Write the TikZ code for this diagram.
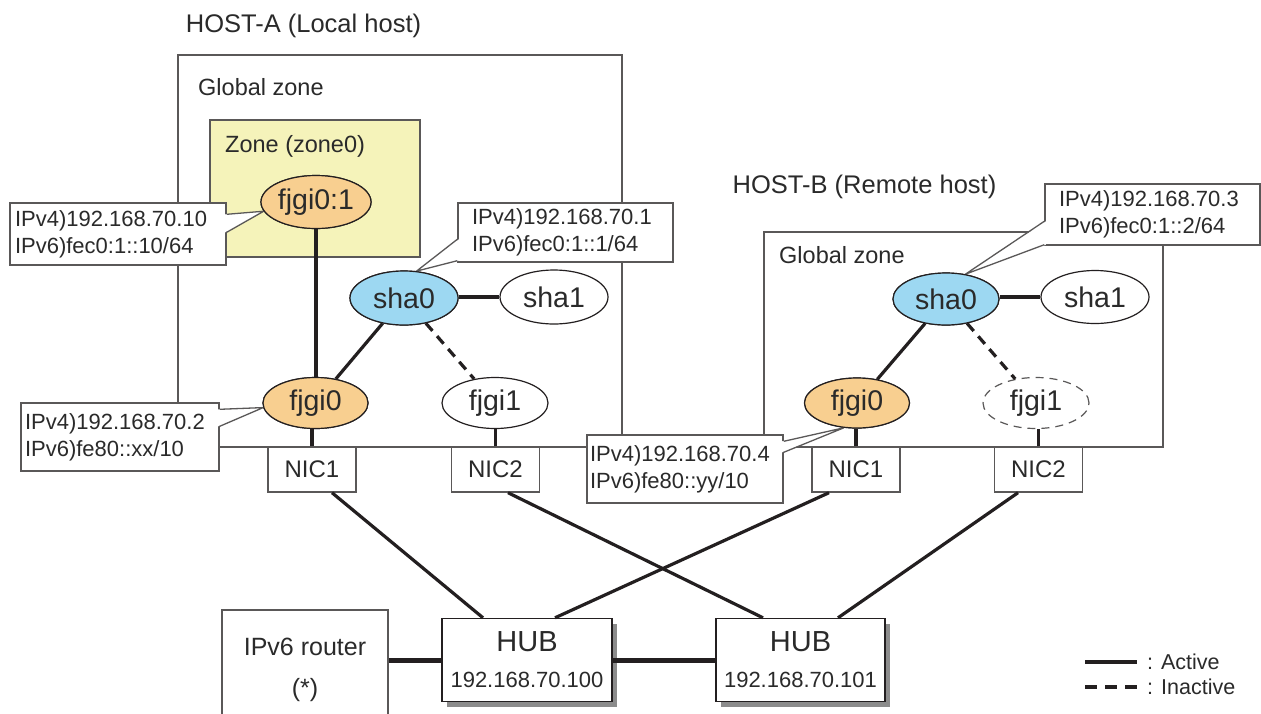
\documentclass[tikz,border=0pt]{standalone}
\usepackage{fontspec}
\setmainfont{Liberation Sans}
\usetikzlibrary{calc,shapes.geometric,shadows}
\definecolor{ink}{HTML}{231F20}
\definecolor{txt}{HTML}{2A2A2A}
\definecolor{boxline}{HTML}{5A5858}
\definecolor{zonefill}{HTML}{F5F3BA}
\definecolor{orangefill}{HTML}{F8CF90}
\definecolor{bluefill}{HTML}{9DD8F2}
\definecolor{shadowgray}{HTML}{8C8C8C}
\newcommand{\fsz}[1]{\fontsize{#1}{#1}\selectfont}
\begin{document}
\begin{tikzpicture}[x=1pt,y=-1pt,
  every node/.style={text=txt},
  hostframe/.style={rectangle, draw=boxline, line width=1.4pt, inner sep=0pt},
  lbl/.style={inner sep=0pt, font=\fsz{23.5}},
  hosttitle/.style={inner sep=0pt, font=\fsz{25.5}},
  ifc/.style={ellipse, draw=ink, line width=1.2pt, inner sep=0pt, font=\fsz{28.5}},
  calloutbox/.style={rectangle, draw=boxline, line width=1.4pt, fill=white, align=left, font=\fontsize{22}{27}\selectfont, inner ysep=0pt},
  nicbox/.style={rectangle, draw=boxline, line width=1.4pt, fill=white, inner sep=0pt, minimum width=88pt, minimum height=45pt, font=\fsz{24}},
  hubbox/.style={rectangle, draw=ink, line width=1.4pt, fill=white, inner sep=0pt, minimum height=83pt, align=center, font=\fontsize{22}{36}\selectfont, drop shadow={shadow xshift=5pt, shadow yshift=-5pt, fill=shadowgray, opacity=1}},
  routerbox/.style={rectangle, draw=boxline, line width=1.4pt, fill=white, inner sep=0pt, minimum width=166pt, minimum height=119pt, align=center, font=\fontsize{25}{41}\selectfont},
  activeline/.style={draw=ink, line width=3.2pt},
  inactiveline/.style={draw=ink, line width=3.2pt, dash pattern=on 10pt off 7pt},
  thickline/.style={draw=ink, line width=5pt},
  wedgeline/.style={draw=boxline, line width=1.3pt, line join=miter},
  legendtext/.style={inner sep=0pt, anchor=west, font=\fsz{21.5}},
]
\useasboundingbox (0,0) rectangle (1261,713);
\clip (0,0) rectangle (1261,713);
\fill[white] (0,0) rectangle (1261,713);

% host frames and zone
\node[hostframe, minimum width=444pt, minimum height=392pt] (hostA) at (400,251) {};
\node[hostframe, minimum width=399pt, minimum height=215pt] (hostB) at (963.5,339.5) {};
\node[hostframe, fill=zonefill, minimum width=210pt, minimum height=137pt] (zone0) at (315,188.5) {};

% labels
\node[hosttitle] (titleA) at (303.5,26) {HOST-A (Local host)};
\node[hosttitle] (titleB) at (864.5,187) {HOST-B (Remote host)};
\node[lbl, anchor=west] (globalA) at (198,87) {Global zone};
\node[lbl, anchor=west] (globalB) at (779,255) {Global zone};
\node[lbl, anchor=west] (zoneLbl) at (225,146) {Zone (zone0)};

% NIC boxes
\node[nicbox] (nicA1) at (312,469.5) {NIC1};
\node[nicbox] (nicA2) at (495.5,469.5) {NIC2};
\node[nicbox] (nicB1) at (856,469.5) {NIC1};
\node[nicbox] (nicB2) at (1038.5,469.5) {NIC2};

% callouts
\node[calloutbox, text width=206pt, inner xsep=5pt, minimum height=62pt] (calA1) at (118,234) {IPv4)192.168.70.10\\IPv6)fec0:1::10/64};
\node[calloutbox, text width=187pt, inner xsep=14pt, minimum height=59pt] (calA2) at (565.5,232.5) {IPv4)192.168.70.1\\IPv6)fec0:1::1/64};
\node[calloutbox, text width=190pt, inner xsep=4pt, minimum height=68pt] (calA3) at (120,437) {IPv4)192.168.70.2\\IPv6)fe80::xx/10};
\node[calloutbox, text width=187pt, inner xsep=14pt, minimum height=61pt] (calB1) at (1152.5,214.5) {IPv4)192.168.70.3\\IPv6)fec0:1::2/64};
\node[calloutbox, text width=190pt, inner xsep=3pt, minimum height=68pt] (calB2) at (685,469) {IPv4)192.168.70.4\\IPv6)fe80::yy/10};

% interfaces
\node[ifc, fill=orangefill, minimum width=110pt, minimum height=53pt] (fjgiA01) at (316,202) {fjgi0:1};
\node[ifc, fill=bluefill, minimum width=108pt, minimum height=54pt] (shaA0) at (404,298) {sha0};
\node[ifc, fill=white, minimum width=108pt, minimum height=54pt] (shaA1) at (554,297) {sha1};
\node[ifc, fill=orangefill, minimum width=105pt, minimum height=51pt] (fjgiA0) at (315.5,403) {fjgi0};
\node[ifc, fill=white, minimum width=106pt, minimum height=51pt] (fjgiA1) at (495,403) {fjgi1};
\node[ifc, fill=bluefill, minimum width=106pt, minimum height=52pt] (shaB0) at (946,299) {sha0};
\node[ifc, fill=white, minimum width=108pt, minimum height=53pt] (shaB1) at (1095,297) {sha1};
\node[ifc, fill=orangefill, minimum width=105pt, minimum height=50pt] (fjgiB0) at (857,403) {fjgi0};
\node[ifc, fill=white, draw=boxline, line width=1.2pt, dash pattern=on 8pt off 6pt, minimum width=106pt, minimum height=51pt] (fjgiB1) at (1036,403) {fjgi1};

% callout wedges
\fill[white] ($(calA1.north east)+(-1.5,12)$) -- (fjgiA01.190) -- ($(calA1.north east)+(-1.5,30)$) -- cycle;
\draw[wedgeline] ($(calA1.north east)+(0,12)$) -- (fjgiA01.190) -- ($(calA1.north east)+(0,30)$);
\fill[white] ($(calA2.north west)+(1.5,37)$) -- (shaA0.65) -- ($(calA2.south west)+(1.5,-2)$) -- cycle;
\draw[wedgeline] ($(calA2.north west)+(0,37)$) -- (shaA0.65) -- ($(calA2.south west)+(0,-2)$);
\fill[white] ($(calA3.north east)+(-1.5,7)$) -- (fjgiA0.185) -- ($(calA3.north east)+(-1.5,24)$) -- cycle;
\draw[wedgeline] ($(calA3.north east)+(0,7)$) -- (fjgiA0.185) -- ($(calA3.north east)+(0,24)$);
\fill[white] ($(calB1.north west)+(1.5,38)$) -- (shaB0.52) -- ($(calB1.south west)+(1.5,-1)$) -- cycle;
\draw[wedgeline] ($(calB1.north west)+(0,38)$) -- (shaB0.52) -- ($(calB1.south west)+(0,-1)$);
\fill[white] ($(calB2.north east)+(-1.5,7)$) -- (fjgiB0.242) -- ($(calB2.north east)+(-1.5,18)$) -- cycle;
\draw[wedgeline] ($(calB2.north east)+(0,7)$) -- (fjgiB0.242) -- ($(calB2.north east)+(0,18)$);

% redraw interfaces on top of wedge tips
\node[ifc, fill=orangefill, minimum width=110pt, minimum height=53pt] (fjgiA01top) at (fjgiA01.center) {fjgi0:1};
\node[ifc, fill=bluefill, minimum width=108pt, minimum height=54pt] (shaA0top) at (shaA0.center) {sha0};
\node[ifc, fill=orangefill, minimum width=105pt, minimum height=51pt] (fjgiA0top) at (fjgiA0.center) {fjgi0};
\node[ifc, fill=bluefill, minimum width=106pt, minimum height=52pt] (shaB0top) at (shaB0.center) {sha0};
\node[ifc, fill=orangefill, minimum width=105pt, minimum height=50pt] (fjgiB0top) at (fjgiB0.center) {fjgi0};

% connectors inside hosts
\draw[activeline] (fjgiA01.south) -- (fjgiA01.south |- fjgiA0.north);
\draw[activeline] (shaA0) -- (fjgiA0);
\draw[inactiveline] (shaA0) -- (fjgiA1);
\draw[activeline] (shaA0.east |- shaA1.west) -- (shaA1.west);
\draw[activeline] (nicA1.north) -- (nicA1.north |- fjgiA0.south);
\draw[activeline] (nicA2.north) -- (nicA2.north |- fjgiA1.south);
\draw[activeline] (shaB0) -- (fjgiB0);
\draw[inactiveline] (shaB0) -- (fjgiB1);
\draw[activeline] (shaB0.east |- shaB1.west) -- (shaB1.west);
\draw[activeline] (nicB1.north) -- (nicB1.north |- fjgiB0.south);
\draw[activeline] (nicB2.north) -- (nicB2.north |- fjgiB1.south);

% hubs and router
\node[routerbox] (router) at (305,669.5) {IPv6 router\\(*)};
\node[hubbox, minimum width=170pt] (hub1) at (527,660) {{\fsz{29}HUB}\\192.168.70.100};
\node[hubbox, minimum width=169pt] (hub2) at (800.5,660) {{\fsz{29}HUB}\\192.168.70.101};

\draw[thickline] (hub1.west -| router.east) -- (hub1.west);
\draw[thickline] (hub1.east) -- (hub2.west);
\draw[activeline] ($(nicA1.south)+(20,0)$) -- ($(hub1.north)+(-44,0)$);
\draw[activeline] ($(nicA2.south)+(12.5,0)$) -- ($(hub2.north)+(-37.5,0)$);
\draw[activeline] ($(nicB1.south)+(-27,0)$) -- ($(hub1.north)+(28,0)$);
\draw[activeline] ($(nicB2.south)+(-20.5,0)$) -- ($(hub2.north)+(37.5,0)$);

% legend
\coordinate (legA1) at (1085,662);
\coordinate (legA2) at (1137,662);
\draw[activeline] (legA1) -- (legA2);
\node[legendtext] (legActive) at (1147,662) {: Active};
\coordinate (legI1) at (1085,687);
\coordinate (legI2) at (1137,687);
\draw[activeline, dash pattern=on 12pt off 8pt] (legI1) -- (legI2);
\node[legendtext] (legInactive) at (1147,687) {: Inactive};
\end{tikzpicture}
\end{document}
